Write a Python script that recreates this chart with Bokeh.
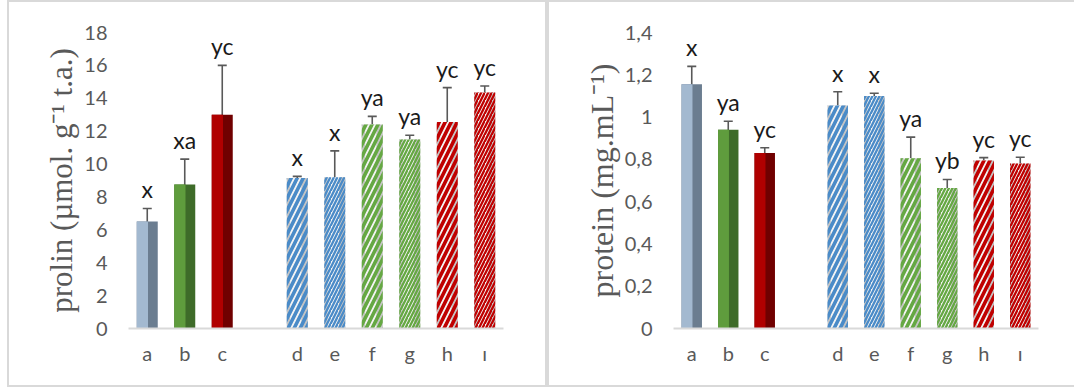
from bokeh.plotting import figure
from bokeh.models import (ColumnDataSource, FactorRange, Range1d, Whisker, LabelSet,
                          FixedTicker, CustomJSTickFormatter, TeeHead)
from bokeh.core.properties import value
from bokeh.transform import dodge
from bokeh.layouts import row
from bokeh.embed import file_html
from bokeh.resources import INLINE

# ---------------- data ----------------
categories = ["a", "b", "c", "d", "e", "f", "g", "h", "ı"]
gap_factor = " "

prolin_values = [6.5, 8.75, 13.0, 9.15, 9.2, 12.4, 11.5, 12.55, 14.35]
prolin_errors = [0.8, 1.55, 3.0, 0.1, 1.6, 0.5, 0.25, 2.1, 0.4]
prolin_labels = ["x", "xa", "yc", "x", "x", "ya", "ya", "yc", "yc"]
prolin_ticks = [0, 2, 4, 6, 8, 10, 12, 14, 16, 18]

protein_values = [1.155, 0.94, 0.83, 1.055, 1.1, 0.805, 0.665, 0.795, 0.78]
protein_errors = [0.085, 0.04, 0.025, 0.065, 0.013, 0.1, 0.04, 0.013, 0.03]
protein_labels = ["x", "ya", "yc", "x", "x", "ya", "yb", "yc", "yc"]
protein_ticks = [0, 0.2, 0.4, 0.6, 0.8, 1.0, 1.2, 1.4]

# ---------------- styles ----------------
solid_light = ["#a3b9d0", "#5f9c3d", "#b00000"]
solid_dark = ["#6b7d90", "#3e6b29", "#700000"]
hatch_colors = ["#4a8bc8", "#4a8bc8", "#65a843", "#65a843", "#c00000", "#c00000"]
hatch_scales = [12, 7, 12, 7, 12, 7]
hatch_weights = [3.6, 2.3, 3.6, 2.3, 3.6, 2.3]

TEXT_GRAY = "#595959"
BORDER = "#d9d9d9"
BAR_W = 0.56
CANVAS_H = 387


def make_panel(values, errors, labels, ticks, y_end, title, title_size, formatter,
               width, mb_left, mb_right, mb_top, mb_bottom, border_style, margin):
    factors = categories[:3] + [gap_factor] + categories[3:]
    p = figure(x_range=FactorRange(factors=factors), y_range=Range1d(0, y_end),
               width=width, height=CANVAS_H, output_backend="svg", toolbar_location=None,
               min_border_left=mb_left, min_border_right=mb_right,
               min_border_top=mb_top, min_border_bottom=mb_bottom,
               styles=border_style, margin=margin)
    src = ColumnDataSource(dict(
        x=categories, top=values,
        upper=[v + e for v, e in zip(values, errors)],
        lower=[v - e for v, e in zip(values, errors)],
        label=labels,
    ))
    solid = ColumnDataSource(dict(x=categories[:3], top=values[:3],
                                  light=solid_light, dark=solid_dark))
    hatched = ColumnDataSource(dict(x=categories[3:], top=values[3:],
                                    hc=hatch_colors, hs=hatch_scales, hw=hatch_weights))
    # solid bevelled bars
    p.vbar(x="x", top="top", width=BAR_W, source=solid, fill_color="dark", line_color=None)
    p.vbar(x=dodge("x", -0.13, range=p.x_range), top="top", width=0.30, source=solid,
           fill_color="light", line_color=None)
    # hatched cylinder bars
    p.vbar(x="x", top="top", width=BAR_W, source=hatched, fill_color="#c4c4c4", line_color=None)
    p.vbar(x=dodge("x", -0.04, range=p.x_range), top="top", width=0.30, source=hatched,
           fill_color="#f4f4f4", line_color=None)
    p.vbar(x="x", top="top", width=BAR_W, source=hatched, fill_alpha=0, line_color=None,
           hatch_pattern="/", hatch_color="hc", hatch_scale="hs", hatch_weight="hw")
    # error bars
    w = Whisker(base="x", upper="upper", lower="lower", source=src,
                line_color=TEXT_GRAY, line_width=1.6,
                upper_head=TeeHead(size=9, line_color=TEXT_GRAY, line_width=1.6),
                lower_head=TeeHead(size=9, line_color=TEXT_GRAY, line_width=1.6))
    p.add_layout(w)
    lab = LabelSet(x="x", y="upper", text="label", source=src, text_align="center",
                   text_baseline="alphabetic", y_offset=10, text_font=value("Lato"),
                   text_font_size="23px", text_color="#1a1a1a")
    p.add_layout(lab)

    p.xgrid.grid_line_color = None
    p.ygrid.grid_line_color = None
    p.outline_line_color = None

    p.yaxis.ticker = FixedTicker(ticks=ticks)
    if formatter is not None:
        p.yaxis.formatter = formatter
    p.yaxis.axis_line_color = None
    p.yaxis.major_tick_line_color = None
    p.yaxis.minor_tick_line_color = None
    p.yaxis.major_tick_out = 0
    p.yaxis.major_tick_in = 0
    p.yaxis.minor_tick_out = 0
    p.yaxis.major_label_text_font = "Lato"
    p.yaxis.major_label_text_font_size = "20px"
    p.yaxis.major_label_text_color = TEXT_GRAY
    p.yaxis.major_label_standoff = 21
    p.yaxis.axis_label = title
    p.yaxis.axis_label_text_font = "Liberation Serif"
    p.yaxis.axis_label_text_font_style = "normal"
    p.yaxis.axis_label_text_font_size = title_size
    p.yaxis.axis_label_text_color = TEXT_GRAY
    p.yaxis.axis_label_standoff = 2

    p.xaxis.axis_line_color = BORDER
    p.xaxis.axis_line_width = 2
    p.xaxis.major_tick_line_color = None
    p.xaxis.minor_tick_line_color = None
    p.xaxis.major_tick_out = 0
    p.xaxis.major_tick_in = 0
    p.xaxis.minor_tick_out = 0
    p.xaxis.major_label_text_font = "Lato"
    p.xaxis.major_label_text_font_size = "20px"
    p.xaxis.major_label_text_color = TEXT_GRAY
    p.xaxis.major_label_standoff = 12
    return p


left = make_panel(prolin_values, prolin_errors, prolin_labels, prolin_ticks, 18,
                  "prolin (µmol. g⁻¹ t.a.)", "31px", None,
                  540, 119, 46, 29, 61,
                  {"border": "2px solid " + BORDER}, (0, 0, 0, 7))

comma_fmt = CustomJSTickFormatter(code="""
    var s = (Math.round(tick * 10) / 10).toString();
    return s.replace('.', ',');
""")
right = make_panel(protein_values, protein_errors, protein_labels, protein_ticks, 1.4,
                   "protein (mg.mL⁻¹)", "32px", comma_fmt,
                   527, 124, 38, 30, 61,
                   {"border-left": "2px solid " + BORDER, "border-top": "2px solid " + BORDER,
                    "border-bottom": "2px solid " + BORDER}, (0, 0, 0, 0))

layout = row(left, right, spacing=0)
open("out.html", "w").write(file_html(layout, INLINE))
